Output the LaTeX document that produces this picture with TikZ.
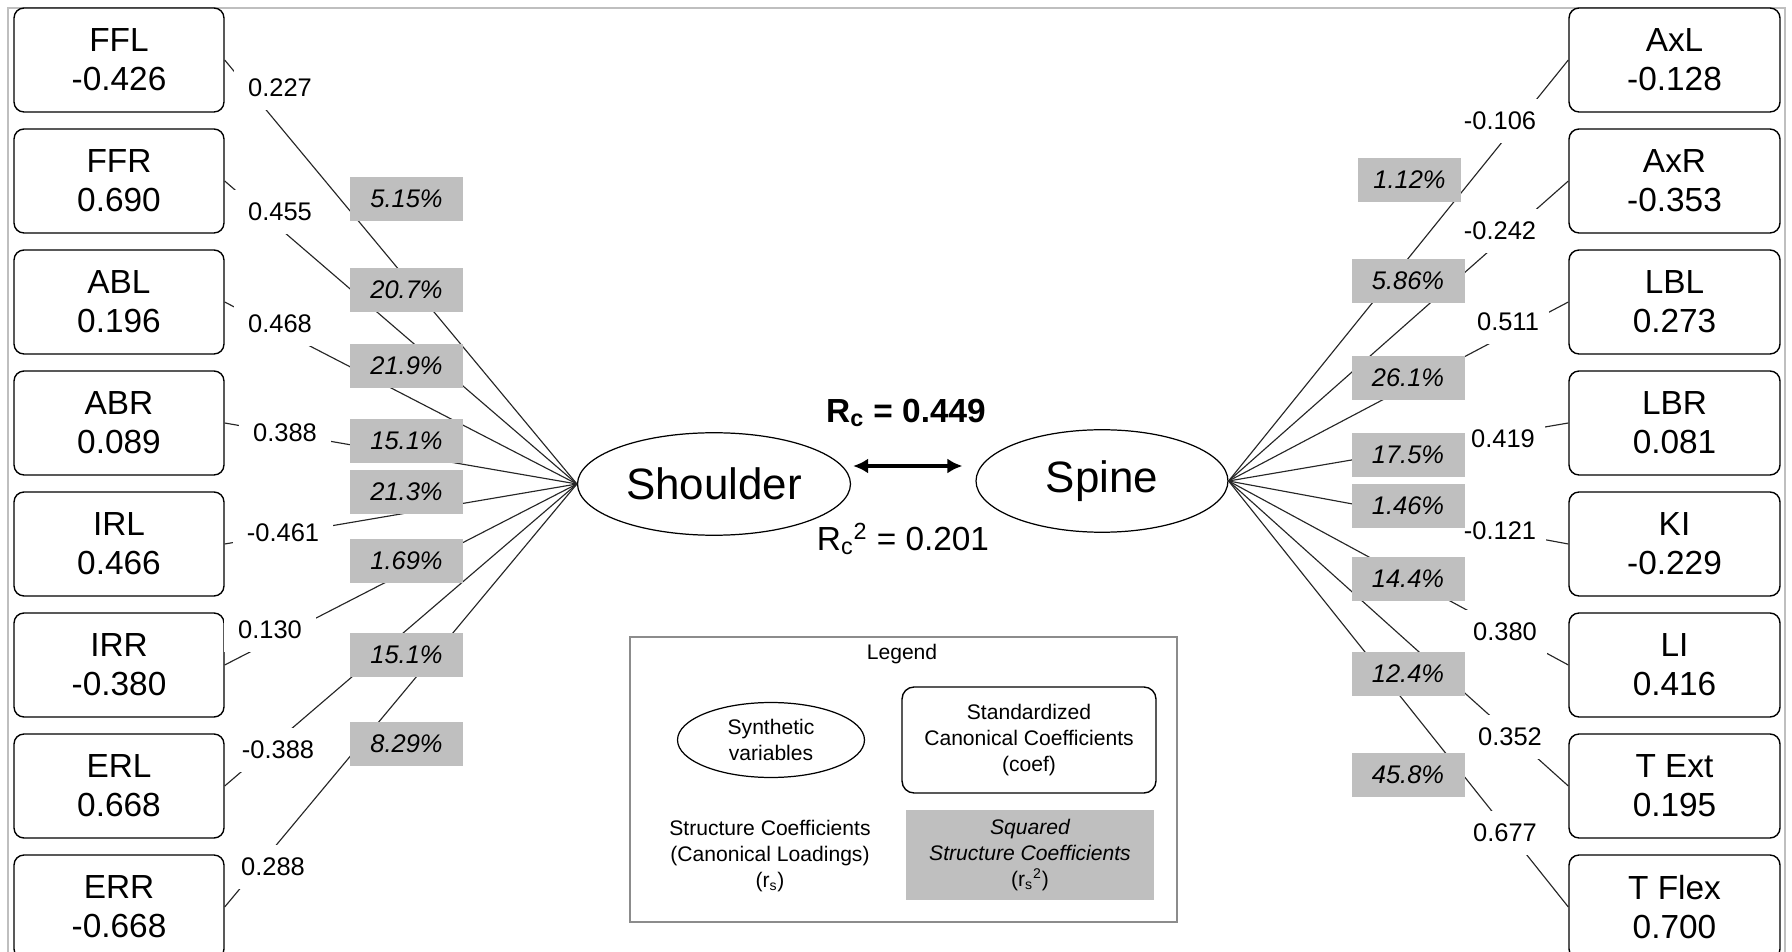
\documentclass[tikz,border=0pt]{standalone}
\usepackage{fontspec}
\setmainfont{Liberation Sans}
\usetikzlibrary{shapes.geometric,calc,arrows.meta}

\tikzset{
  varbox/.style={draw, rounded corners=0.2cm, line width=0.8pt, fill=white,
    align=center, minimum width=4.2cm, minimum height=2.08cm,
    font=\fontsize{19}{22}\selectfont},
  synth/.style={draw, ellipse, line width=0.7pt, fill=white, inner sep=0pt,
    minimum width=5.46cm, minimum height=2.05cm,
    font=\fontsize{25}{30}\selectfont},
  link/.style={line width=0.65pt, draw=black!85},
  loading/.style={fill=white, inner xsep=0.28cm, inner ysep=0pt,
    minimum height=0.88cm, font=\fontsize{14.5}{17}\selectfont},
  sqbox/.style={fill=black!25, minimum height=0.88cm, inner sep=0pt,
    font=\fontsize{14.5}{17}\selectfont\itshape},
  legtext/.style={align=center, font=\fontsize{12}{14.6}\selectfont}
}

\begin{document}
\begin{tikzpicture}[x=0.02cm, y=-0.02cm]
  \useasboundingbox (0,0) rectangle (1792,952);
  \clip (0,0) rectangle (1792,952);
  \draw[black!25, line width=0.8pt] (8,8) rectangle (1785,975);

  % measured variables with their coefficients
  \foreach \lab/\coef [count=\i] in {FFL/-0.426, FFR/0.690, ABL/0.196, ABR/0.089,
      IRL/0.466, IRR/-0.380, ERL/0.668, ERR/-0.668}
    \node[varbox] (L\i) at (119, {60+121*(\i-1)}) {\lab\\\coef};
  \foreach \lab/\coef [count=\i] in {AxL/-0.128, AxR/-0.353, LBL/0.273, LBR/0.081,
      KI/-0.229, LI/0.416, T Ext/0.195, T Flex/0.700}
    \node[varbox, minimum width=4.22cm] (R\i) at (1674.5, {60+121*(\i-1)}) {\lab\\\coef};

  % synthetic variables
  \node[synth] (Shoulder) at (714,484) {Shoulder};
  \node[synth, minimum width=5.04cm] (Spine) at (1102,481) {Spine};

  \foreach \i in {1,...,8} {
    \draw[link] (L\i.east) -- (Shoulder.west);
    \draw[link] (R\i.west) -- (Spine.east);
  }

  % structure coefficients
  \foreach \rs/\x/\y [count=\i] in {0.227/280/88, 0.455/280/212, 0.468/280/324,
      0.388/285/433, -0.461/283/533, 0.130/270/630, -0.388/278/750, 0.288/273/867}
    \node[loading] (rsL\i) at (\x,\y) {\rs};
  \foreach \rs/\x/\y [count=\i] in {-0.106/1500/121, -0.242/1500/231, 0.511/1508/322,
      0.419/1503/439, -0.121/1500/531, 0.380/1505/632, 0.352/1510/737, 0.677/1505/833}
    \node[loading, inner xsep=0.2cm] (rsR\i) at (\x,\y) {\rs};

  % squared structure coefficients
  \foreach \sq/\y [count=\i] in {5.15\%/199, 20.7\%/290, 21.9\%/366, 15.1\%/441,
      21.3\%/492, 1.69\%/561, 15.1\%/655, 8.29\%/744}
    \node[sqbox, minimum width=2.26cm] (sqL\i) at (406.5,\y) {\sq};
  \foreach \sq/\x/\y/\w [count=\i] in {1.12\%/1409.5/180/2.06, 5.86\%/1408/281/2.26,
      26.1\%/1408/378/2.26, 17.5\%/1408/455/2.26, 1.46\%/1408/506/2.26,
      14.4\%/1408/579/2.26, 12.4\%/1408/674/2.26, 45.8\%/1408/775/2.26}
    \node[sqbox, minimum width=\w cm] (sqR\i) at (\x,\y) {\sq};

  % canonical correlation
  \draw[line width=2pt, {Latex[length=0.3cm,width=0.3cm]}-{Latex[length=0.3cm,width=0.3cm]}]
    ($(Shoulder.east)+(2,-18)$) -- ($(Spine.west)+(-13,-15)$);
  \node[font=\fontsize{19}{22}\selectfont\bfseries] (rc) at (906,413)
    {R\textsubscript{c} = 0.449};
  \node[font=\fontsize{19}{22}\selectfont] (rc2) at (903,539)
    {R\textsubscript{c}\textsuperscript{2} = 0.201};

  % legend
  \node[draw=black!45, line width=0.8pt, minimum width=10.94cm, minimum height=5.7cm]
    (legend) at (903.5,779.5) {};
  \node[legtext] (legtitle) at (902,654) {Legend};
  \node[draw, ellipse, line width=0.7pt, inner sep=0pt, minimum width=3.74cm,
    minimum height=1.5cm, legtext] (legsynth) at (771,740) {Synthetic\\variables};
  \node[draw, rounded corners=0.24cm, line width=0.8pt, minimum width=5.08cm,
    minimum height=2.12cm, legtext] (legcoef) at (1029,740)
    {Standardized\\Canonical Coefficients\\(coef)};
  \node[legtext] (legrs) at (770,856)
    {Structure Coefficients\\(Canonical Loadings)\\(r\textsubscript{s})};
  \node[fill=black!25, minimum width=4.98cm, minimum height=1.82cm, legtext]
    (legsq) at (1030,855)
    {\itshape Squared\\\itshape Structure Coefficients\\(r\textsubscript{s}\textsuperscript{2})};
\end{tikzpicture}
\end{document}
